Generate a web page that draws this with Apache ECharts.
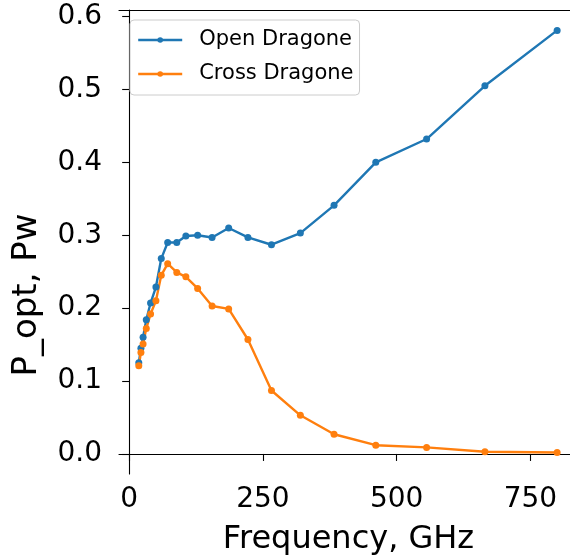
<!DOCTYPE html>
<html>
<head>
<meta charset="utf-8">
<script src="https://cdn.jsdelivr.net/npm/echarts@6/dist/echarts.min.js"></script>
<style>html,body{margin:0;padding:0;background:#fff;}#c{width:570px;height:559px;}</style>
</head>
<body>
<div id="c"></div>
<script>
const frequency = [18, 22, 26, 32, 40, 50, 60, 72, 89, 106, 128, 155, 186, 222, 266, 320, 383, 461, 556, 665, 800];
const openDragone = [0.125, 0.145, 0.160, 0.184, 0.207, 0.229, 0.268, 0.290, 0.290, 0.299, 0.300, 0.297, 0.310, 0.297, 0.287, 0.303, 0.341, 0.400, 0.432, 0.505, 0.581];
const crossDragone = [0.121, 0.139, 0.151, 0.172, 0.192, 0.210, 0.245, 0.261, 0.249, 0.243, 0.227, 0.203, 0.199, 0.157, 0.087, 0.053, 0.027, 0.012, 0.009, 0.003, 0.002];
const xTicks = [0, 250, 500, 750];
const yTicks = [0.0, 0.1, 0.2, 0.3, 0.4, 0.5, 0.6];

const FONT = 'DejaVu Sans';
const pair = (xs, ys) => xs.map((x, i) => [x, ys[i]]);
const chart = echarts.init(document.getElementById('c'), null, {renderer: 'canvas'});
const axisCommon = {
  axisLine: {show: true, lineStyle: {color: '#000', width: 1.1}},
  splitLine: {show: false}
};
chart.setOption({
  animation: false,
  backgroundColor: '#fff',
  grid: {left: 119, top: 10, width: 459, height: 464, containLabel: false, outerBoundsMode: 'none'},
  legend: {
    orient: 'vertical', left: 130, top: 20,
    padding: [9, 6, 10, 7], itemGap: 12, itemWidth: 44, itemHeight: 7,
    backgroundColor: 'rgba(255,255,255,0.8)', borderColor: '#cccccc', borderWidth: 1, borderRadius: 4,
    lineStyle: {width: 2.4},
    textStyle: {fontFamily: FONT, fontSize: 21, color: '#000', padding: [0, 0, 0, 12], lineHeight: 22},
    data: ['Open Dragone', 'Cross Dragone']
  },
  xAxis: [{
    type: 'value', min: -19, max: 839, position: 'bottom',
    ...axisCommon,
    axisTick: {show: true, length: 7, lineStyle: {color: '#000', width: 1.1}, customValues: xTicks},
    axisLabel: {fontFamily: FONT, fontSize: 28, color: '#000', margin: 12, customValues: xTicks},
    name: 'Frequency, GHz', nameLocation: 'middle', nameGap: 50,
    nameTextStyle: {fontFamily: FONT, fontSize: 32, color: '#000'}
  }, {
    type: 'value', min: -19, max: 839, position: 'top',
    ...axisCommon, axisTick: {show: false}, axisLabel: {show: false}
  }],
  yAxis: [{
    type: 'value', min: -0.0275, max: 0.609, position: 'left',
    ...axisCommon,
    axisTick: {show: true, length: 7, lineStyle: {color: '#000', width: 1.1}, customValues: yTicks},
    axisLabel: {fontFamily: FONT, fontSize: 28, color: '#000', margin: 17, customValues: yTicks,
      formatter: v => v.toFixed(1)}
  }],
  graphic: [{
    type: 'text', x: 27, y: 295, rotation: Math.PI / 2,
    style: {text: 'P_opt, Pw', fontFamily: FONT, fontSize: 34, fill: '#000', align: 'center', verticalAlign: 'middle'}
  }],
  series: [{
    name: 'Open Dragone', type: 'line', data: pair(frequency, openDragone),
    color: '#1f77b4', symbol: 'circle', symbolSize: 7, showAllSymbol: true,
    lineStyle: {width: 2.4, color: '#1f77b4'}, itemStyle: {color: '#1f77b4'}
  }, {
    name: 'Cross Dragone', type: 'line', data: pair(frequency, crossDragone),
    color: '#ff7f0e', symbol: 'circle', symbolSize: 7, showAllSymbol: true,
    lineStyle: {width: 2.4, color: '#ff7f0e'}, itemStyle: {color: '#ff7f0e'}
  }]
});
</script>
</body>
</html>
